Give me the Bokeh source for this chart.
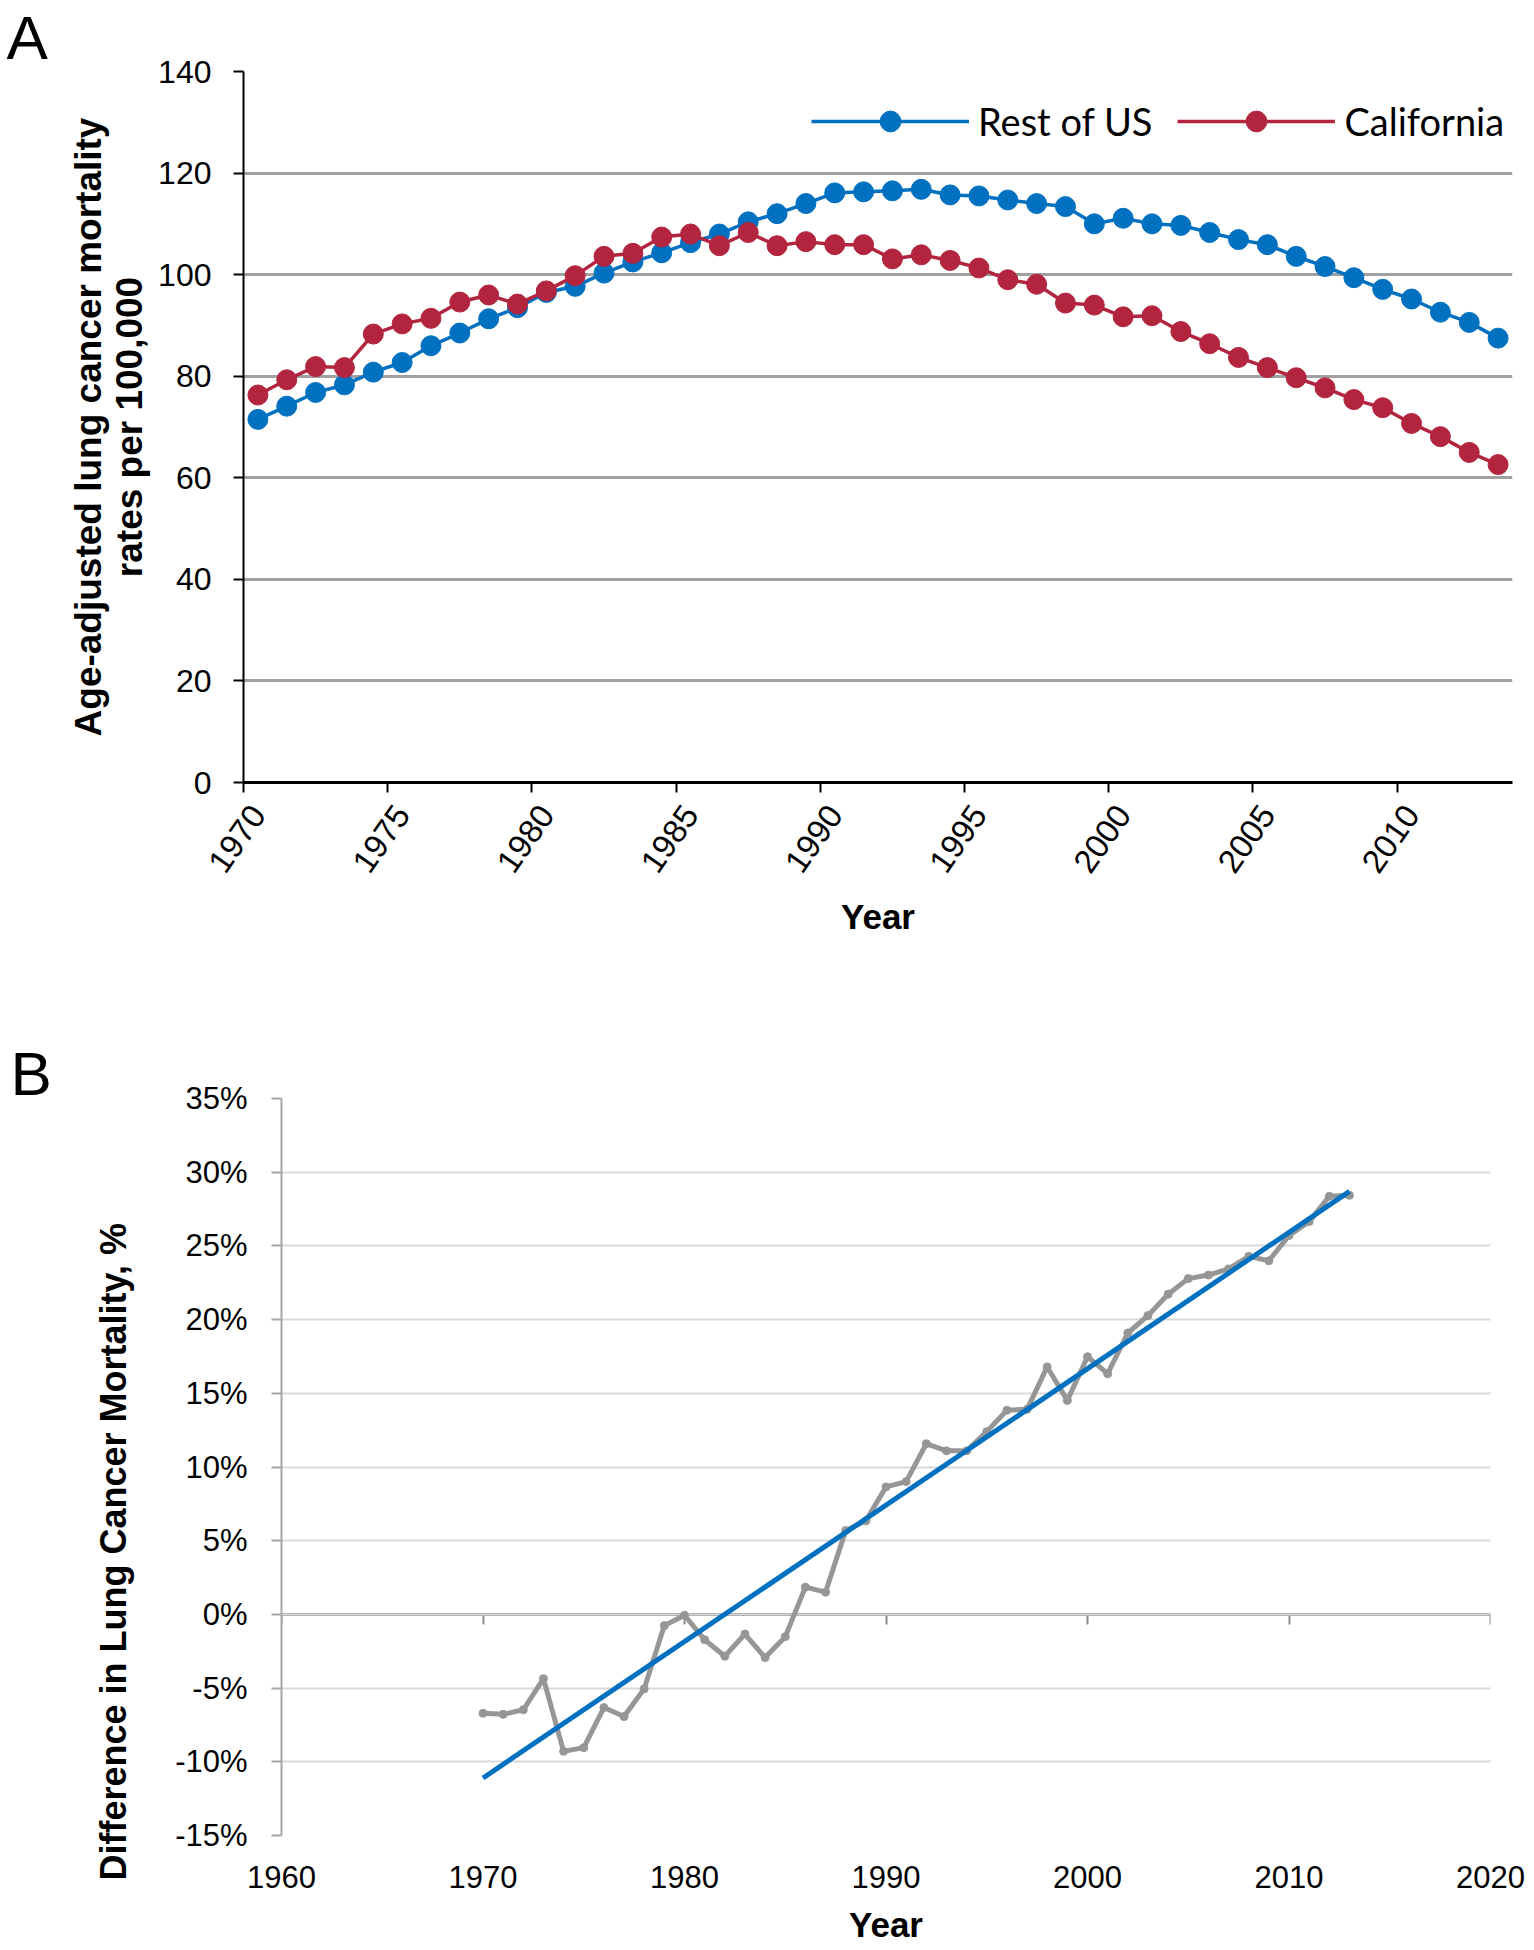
import math
from bokeh.plotting import figure
from bokeh.models import (FixedTicker, Legend, LegendItem, LinearAxis, Title,
                          PrintfTickFormatter, Range1d)
from bokeh.embed import file_html
from bokeh.resources import INLINE

# ---------------- data ----------------
years = list(range(1970, 2014))
rest_of_us = [71.5, 74.1, 76.8, 78.3, 80.8, 82.7, 86.0, 88.5, 91.3, 93.5, 96.5,
              97.7, 100.3, 102.5, 104.3, 106.3, 108.0, 110.4, 112.0, 114.0, 116.1, 116.3,
              116.5, 116.8, 115.7, 115.5, 114.7, 114.0, 113.4, 110.0, 111.1, 110.0, 109.7,
              108.3, 106.9, 105.9, 103.6, 101.6, 99.4, 97.1, 95.2, 92.6, 90.6, 87.5]
california = [76.3, 79.3, 81.9, 81.7, 88.3, 90.3, 91.4, 94.6, 96.0, 94.2, 96.8,
              99.8, 103.6, 104.2, 107.4, 108.0, 105.7, 108.3, 105.7, 106.5, 105.9, 105.9,
              103.1, 103.9, 102.8, 101.3, 99.0, 98.1, 94.4, 94.0, 91.7, 91.9, 88.8,
              86.4, 83.7, 81.7, 79.7, 77.7, 75.4, 73.8, 70.7, 68.1, 65.0, 62.6]
a_year_ticks = [1970, 1975, 1980, 1985, 1990, 1995, 2000, 2005, 2010]
a_y_ticks = [0, 20, 40, 60, 80, 100, 120, 140]

diff_pct = [-6.71, -6.78, -6.47, -4.36, -9.29, -9.04, -6.32, -6.93, -5.05, -0.76, -0.06,
            -1.72, -2.84, -1.33, -2.93, -1.51, 1.85, 1.51, 5.69, 6.35, 8.65, 9.01,
            11.58, 11.10, 11.10, 12.40, 13.85, 13.91, 16.79, 14.52, 17.48, 16.33, 19.09,
            20.27, 21.72, 22.78, 23.02, 23.44, 24.29, 23.99, 25.71, 26.65, 28.37, 28.43]
trend_years = [1970, 2013]
trend_pct = [-11.1, 28.7]
b_year_ticks = [1960, 1970, 1980, 1990, 2000, 2010, 2020]
b_y_ticks = [-15, -10, -5, 0, 5, 10, 15, 20, 25, 30, 35]

FONT = "Liberation Sans"
BLUE = "#0070C0"
RED = "#B3243F"
GRAY = "#969696"

# ---------------- panel A ----------------
pA = figure(frame_width=1269, frame_height=711,
            min_border_left=243, min_border_right=14, min_border_top=70, min_border_bottom=196,
            x_range=Range1d(1969.5, 2013.5), y_range=Range1d(0, 140),
            output_backend="svg", toolbar_location=None)
pA.outline_line_color = None
pA.background_fill_color = "white"
pA.border_fill_color = "white"

pA.xgrid.visible = False
pA.ygrid.grid_line_color = "#A0A0A0"
pA.ygrid.grid_line_width = 3

pA.yaxis.ticker = FixedTicker(ticks=a_y_ticks)
pA.yaxis.axis_line_color = "black"
pA.yaxis.axis_line_width = 2
pA.yaxis.major_tick_out = 10
pA.yaxis.major_tick_in = 0
pA.yaxis.major_tick_line_width = 2
pA.yaxis.minor_tick_line_color = None
pA.yaxis.major_label_standoff = 22
pA.yaxis.major_label_text_font = FONT
pA.yaxis.major_label_text_font_size = "32px"
pA.yaxis.major_label_text_color = "black"

pA.xaxis.ticker = FixedTicker(ticks=a_year_ticks, minor_ticks=[t - 0.5 for t in a_year_ticks])
pA.xaxis.axis_line_color = "black"
pA.xaxis.axis_line_width = 3
pA.xaxis.major_tick_line_color = None
pA.xaxis.major_tick_out = 0
pA.xaxis.major_tick_in = 0
pA.xaxis.minor_tick_out = 10
pA.xaxis.minor_tick_in = 0
pA.xaxis.minor_tick_line_color = "black"
pA.xaxis.minor_tick_line_width = 2
pA.xaxis.major_label_orientation = 0.96
pA.xaxis.major_label_standoff = 16
pA.xaxis.major_label_text_font = FONT
pA.xaxis.major_label_text_font_size = "33px"
pA.xaxis.major_label_text_color = "black"
pA.xaxis.axis_label = "Year"
pA.xaxis.axis_label_text_font = FONT
pA.xaxis.axis_label_text_font_style = "bold"
pA.xaxis.axis_label_text_font_size = "35px"
pA.xaxis.axis_label_text_color = "black"
pA.xaxis.axis_label_standoff = 12

rl = pA.line(years, rest_of_us, line_color=BLUE, line_width=3.5)
rs = pA.scatter(years, rest_of_us, size=20, fill_color=BLUE, line_color=BLUE)
cl = pA.line(years, california, line_color=RED, line_width=3.5)
cs = pA.scatter(years, california, size=20, fill_color=RED, line_color=RED)

leg = Legend(items=[LegendItem(label="Rest of US", renderers=[rl, rs]),
                    LegendItem(label="California", renderers=[cl, cs])],
             location=(568, 635), orientation="horizontal",
             glyph_width=158, glyph_height=52, label_standoff=9, spacing=25,
             padding=0, margin=0, border_line_color=None, background_fill_alpha=0,
             label_text_font="Lato", label_text_font_size="38px",
             label_text_color="black")
pA.add_layout(leg)

pA.add_layout(Title(text="A", align="left", offset=-237, standoff=0,
                    text_font=FONT, text_font_style="normal", text_font_size="62px",
                    text_color="black"), "above")
pA.add_layout(Title(text="rates per 100,000", align="center", standoff=11,
                    text_font=FONT, text_font_style="bold", text_font_size="37px",
                    text_color="black"), "left")
pA.add_layout(Title(text="Age-adjusted lung cancer mortality", align="center", standoff=-15,
                    text_font=FONT, text_font_style="bold", text_font_size="37px",
                    text_color="black"), "left")

# ---------------- panel B ----------------
pB = figure(frame_width=1209, frame_height=737,
            min_border_left=281, min_border_right=36, min_border_top=120, min_border_bottom=113,
            x_range=Range1d(1960, 2020), y_range=Range1d(-15, 35),
            output_backend="svg", toolbar_location=None)
pB.outline_line_color = None
pB.background_fill_color = "white"
pB.border_fill_color = "white"

pB.xgrid.visible = False
pB.ygrid.grid_line_color = "#D9D9D9"
pB.ygrid.grid_line_width = 2

pB.yaxis.ticker = FixedTicker(ticks=b_y_ticks)
pB.yaxis.formatter = PrintfTickFormatter(format="%d%%")
pB.yaxis.axis_line_color = "#A6A6A6"
pB.yaxis.axis_line_width = 2
pB.yaxis.major_tick_out = 10
pB.yaxis.major_tick_in = 0
pB.yaxis.major_tick_line_color = "#A6A6A6"
pB.yaxis.major_tick_line_width = 2
pB.yaxis.minor_tick_line_color = None
pB.yaxis.major_label_standoff = 24
pB.yaxis.major_label_text_font = FONT
pB.yaxis.major_label_text_font_size = "31px"
pB.yaxis.major_label_text_color = "black"

pB.xaxis.ticker = FixedTicker(ticks=b_year_ticks)
pB.xaxis.axis_line_color = None
pB.xaxis.major_tick_line_color = None
pB.xaxis.minor_tick_line_color = None
pB.xaxis.major_tick_out = 0
pB.xaxis.major_tick_in = 0
pB.xaxis.major_label_standoff = 30
pB.xaxis.major_label_text_font = FONT
pB.xaxis.major_label_text_font_size = "31px"
pB.xaxis.major_label_text_color = "black"
pB.xaxis.axis_label = "Year"
pB.xaxis.axis_label_text_font = FONT
pB.xaxis.axis_label_text_font_style = "bold"
pB.xaxis.axis_label_text_font_size = "35px"
pB.xaxis.axis_label_text_color = "black"
pB.xaxis.axis_label_standoff = 14

zero_axis = LinearAxis(fixed_location=0, ticker=FixedTicker(ticks=b_year_ticks),
                       axis_line_color="#8C8C8C", axis_line_width=3,
                       major_tick_out=10, major_tick_in=0,
                       major_tick_line_color="#8C8C8C", major_tick_line_width=2,
                       minor_tick_line_color=None, major_label_text_color=None,
                       major_label_text_font_size="1px", major_label_standoff=0)
zero_axis.level = "underlay"
pB.add_layout(zero_axis, "below")

pB.line(years, diff_pct, line_color=GRAY, line_width=5)
pB.scatter(years, diff_pct, size=8, fill_color=GRAY, line_color=GRAY)
pB.line(trend_years, trend_pct, line_color=BLUE, line_width=5)

pB.add_layout(Title(text="B", align="left", offset=-271, standoff=-18,
                    text_font=FONT, text_font_style="normal", text_font_size="62px",
                    text_color="black"), "above")
pB.add_layout(Title(text="Difference in Lung Cancer Mortality, %", align="left",
                    offset=-45, standoff=77,
                    text_font=FONT, text_font_style="bold", text_font_size="36px",
                    text_color="black"), "left")

open("out.html", "w").write(file_html([pA, pB], INLINE))
